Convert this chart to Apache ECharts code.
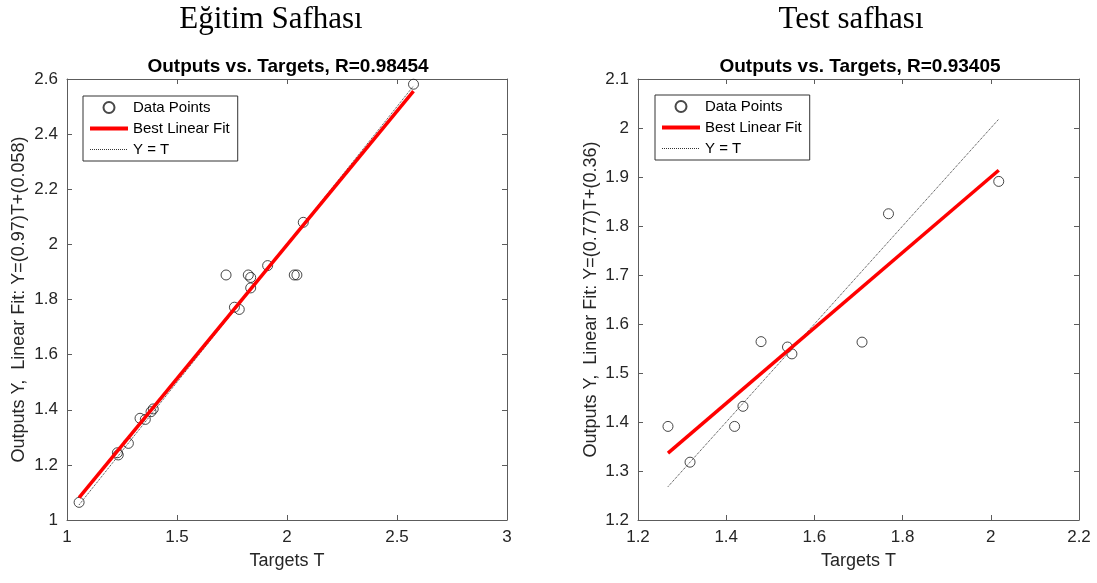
<!DOCTYPE html>
<html>
<head>
<meta charset="utf-8">
<script src="https://cdn.jsdelivr.net/npm/echarts@6/dist/echarts.min.js"></script>
<style>
  html, body { margin: 0; padding: 0; background: #fff; }
  #main { width: 1097px; height: 583px; }
</style>
</head>
<body>
<div id="main"></div>
<script>
// training phase (Eğitim)
var trainTargets = [1.055, 2.575, 2.074, 1.723, 1.824, 1.835, 1.835, 1.912, 2.033, 2.045, 1.761, 1.783, 1.279, 1.229, 1.233, 1.332, 1.356, 1.382, 1.392];
var trainOutputs = [1.064, 2.581, 2.080, 1.889, 1.889, 1.880, 1.842, 1.923, 1.889, 1.889, 1.772, 1.764, 1.278, 1.244, 1.236, 1.369, 1.365, 1.393, 1.403];
var trainFit = [0.97, 0.058]; // slope, intercept
var trainR = "0.98454";
var trainXTicks = [1, 3, 0.5];   // min, max, step
var trainYTicks = [1, 2.6, 0.2];

// test phase
var testTargets = [1.268, 1.318, 1.419, 1.438, 1.479, 1.539, 1.549, 1.708, 1.768, 2.018];
var testOutputs = [1.391, 1.318, 1.391, 1.432, 1.564, 1.553, 1.539, 1.563, 1.825, 1.891];
var testFit = [0.77, 0.36];
var testR = "0.93405";
var testXTicks = [1.2, 2.2, 0.2];
var testYTicks = [1.2, 2.1, 0.1];

var labelColor = "#262626";
var lineColor = "#5c5c5c";
var font = "Liberation Sans";

function zip(a, b) {
  return a.map(function (v, i) { return [v, b[i]]; });
}

function axis(gi, ticks, pos, named, nameText, gap) {
  return {
    type: "value",
    gridIndex: gi,
    position: pos,
    min: ticks[0],
    max: ticks[1],
    interval: ticks[2],
    axisLine: { show: true, onZero: false, lineStyle: { color: lineColor, width: 1 } },
    axisTick: { show: true, inside: true, length: 5, lineStyle: { color: lineColor } },
    axisLabel: { show: named, fontSize: 17, color: labelColor, fontFamily: font, margin: 9 },
    splitLine: { show: false },
    name: named ? nameText : "",
    nameLocation: "middle",
    nameGap: gap,
    nameTextStyle: { fontSize: 18, color: labelColor, fontFamily: font }
  };
}

function plotSeries(idx, targets, outputs, fit) {
  var lo = Math.min.apply(null, targets);
  var hi = Math.max.apply(null, targets);
  return [
    {
      name: "Data Points",
      type: "scatter",
      xAxisIndex: idx * 2,
      yAxisIndex: idx * 2,
      symbol: "circle",
      symbolSize: 10,
      itemStyle: { color: "rgba(0,0,0,0)", borderColor: "#1a1a1a", borderWidth: 1 },
      data: zip(targets, outputs),
      z: 2
    },
    {
      name: "Y = T",
      type: "line",
      xAxisIndex: idx * 2,
      yAxisIndex: idx * 2,
      symbol: "none",
      lineStyle: { color: "#333", width: 1, type: "dotted" },
      itemStyle: { color: "#333" },
      data: [[lo, lo], [hi, hi]],
      z: 3
    },
    {
      name: "Best Linear Fit",
      type: "line",
      xAxisIndex: idx * 2,
      yAxisIndex: idx * 2,
      symbol: "none",
      lineStyle: { color: "#ff0000", width: 3.5 },
      itemStyle: { color: "#ff0000" },
      data: [[lo, fit[0] * lo + fit[1]], [hi, fit[0] * hi + fit[1]]],
      z: 4
    }
  ];
}

function legendAt(left, top) {
  return {
    left: left,
    top: top,
    orient: "vertical",
    data: [
      { name: "Data Points" },
      { name: "Best Linear Fit", itemStyle: { opacity: 0 }, lineStyle: { width: 4, color: "#ff0000" } },
      { name: "Y = T", itemStyle: { opacity: 0 }, lineStyle: { width: 1, type: "dotted", color: "#333" } }
    ],
    itemWidth: 38,
    itemHeight: 11,
    itemGap: 6,
    padding: [4, 8, 4, 5],
    borderColor: "#333",
    borderWidth: 1,
    backgroundColor: "#fff",
    selectedMode: false,
    textStyle: { fontSize: 15, color: "#000", fontFamily: font }
  };
}

var chart = echarts.init(document.getElementById("main"));
chart.setOption({
  animation: false,
  backgroundColor: "#fff",
  title: [
    { text: "Eğitim Safhası", left: 271, top: 4, textAlign: "center", padding: 0,
      textStyle: { fontFamily: "Liberation Serif", fontSize: 31, fontWeight: "normal", color: "#000" } },
    { text: "Test safhası", left: 851, top: 4, textAlign: "center", padding: 0,
      textStyle: { fontFamily: "Liberation Serif", fontSize: 31, fontWeight: "normal", color: "#000" } },
    { text: "Outputs vs. Targets, R=" + trainR, left: 288, top: 57, textAlign: "center", padding: 0,
      textStyle: { fontFamily: font, fontSize: 19, fontWeight: "bold", color: "#000" } },
    { text: "Outputs vs. Targets, R=" + testR, left: 860, top: 57, textAlign: "center", padding: 0,
      textStyle: { fontFamily: font, fontSize: 19, fontWeight: "bold", color: "#000" } }
  ],
  legend: [legendAt(83, 96), legendAt(655, 95)],
  grid: [
    { left: 67, top: 79, width: 440, height: 441 },
    { left: 638, top: 79, width: 441, height: 441 }
  ],
  xAxis: [
    axis(0, trainXTicks, "bottom", true, "Targets T", 32),
    axis(0, trainXTicks, "top", false),
    axis(1, testXTicks, "bottom", true, "Targets T", 32),
    axis(1, testXTicks, "top", false)
  ],
  yAxis: [
    axis(0, trainYTicks, "left", true, "Outputs Y,  Linear Fit: Y=(" + trainFit[0] + ")T+(" + trainFit[1] + ")", 39),
    axis(0, trainYTicks, "right", false),
    axis(1, testYTicks, "left", true, "Outputs Y,  Linear Fit: Y=(" + testFit[0] + ")T+(" + testFit[1] + ")", 38),
    axis(1, testYTicks, "right", false)
  ],
  series: plotSeries(0, trainTargets, trainOutputs, trainFit)
    .concat(plotSeries(1, testTargets, testOutputs, testFit))
});
</script>
</body>
</html>
